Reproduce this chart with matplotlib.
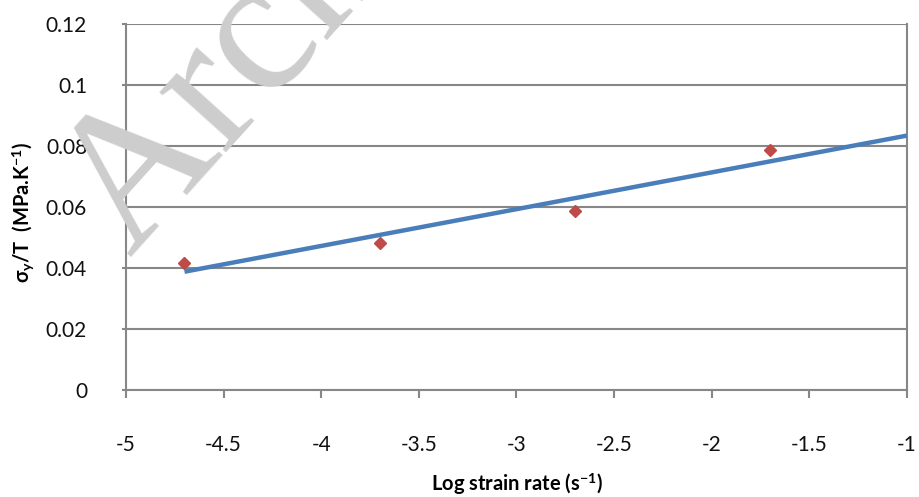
import matplotlib
matplotlib.use("Agg")
import matplotlib.pyplot as plt

plt.rcParams['font.family'] = ['Lato', 'DejaVu Sans']
plt.rcParams['mathtext.fontset'] = 'custom'
plt.rcParams['mathtext.rm'] = 'Lato'
plt.rcParams['mathtext.it'] = 'Lato:italic'
plt.rcParams['mathtext.bf'] = 'Lato:bold'

# data
log_rate = [-4.7, -3.7, -2.7, -1.7]
sigma_T = [0.0415, 0.0483, 0.0586, 0.0787]
trend_x = [-4.7, -1.0]
trend_y = [0.0388, 0.0834]
x_ticks = [-5, -4.5, -4, -3.5, -3, -2.5, -2, -1.5, -1]
x_ticklabels = ['-5', '-4.5', '-4', '-3.5', '-3', '-2.5', '-2', '-1.5', '-1']
y_ticks = [0, 0.02, 0.04, 0.06, 0.08, 0.1, 0.12]
y_ticklabels = ['0', '0.02', '0.04', '0.06', '0.08', '0.1', '0.12']

fig = plt.figure(figsize=(9.19, 4.97), dpi=100)
fig.patch.set_facecolor('white')

# watermark
fig.text(130 / 919, 1 - 258 / 497, 'Archived', fontsize=140, family='Liberation Serif',
         color='#cdcdcd', rotation=48, rotation_mode='anchor',
         ha='left', va='baseline', zorder=0)

ax = fig.add_axes([0.137, 0.215, 0.850, 0.737])
ax.set_facecolor('none')
grid_c = '#878787'
ax.set_xlim(-5, -1)
ax.set_ylim(0, 0.12)
ax.set_xticks(x_ticks)
ax.set_xticklabels(x_ticklabels)
ax.set_yticks(y_ticks)
ax.set_yticklabels(y_ticklabels)
ax.yaxis.grid(True, color=grid_c, linewidth=1.5)
ax.set_axisbelow(True)
for s in ['left', 'bottom', 'right']:
    ax.spines[s].set_color(grid_c)
    ax.spines[s].set_linewidth(1.5)
ax.spines['top'].set_visible(False)
ax.tick_params(axis='x', length=6, width=1.5, color=grid_c, pad=26, labelsize=15, labelcolor='#111111')
ax.tick_params(axis='y', length=3, width=1.5, color=grid_c, pad=25, labelsize=15, labelcolor='#111111')

ax.plot(trend_x, trend_y, color='#4a7ebb', linewidth=3.2, solid_capstyle='butt', zorder=3)
ax.plot(log_rate, sigma_T, linestyle='none', marker='D', markersize=6.5,
        color='#be4b48', zorder=4)

fig.text(0.563, 0.025, r'Log strain rate (s$^{\mathbf{-1}}$)', fontsize=14.5,
         fontweight='bold', ha='center', va='center')
fig.text(0.026, 0.573, r'$\mathbf{\sigma_y}$/T  (MPa.K$^{\mathbf{-1}}$)', fontsize=14.5,
         fontweight='bold', ha='center', va='center', rotation=90)

fig.savefig('out.png', dpi=100)
